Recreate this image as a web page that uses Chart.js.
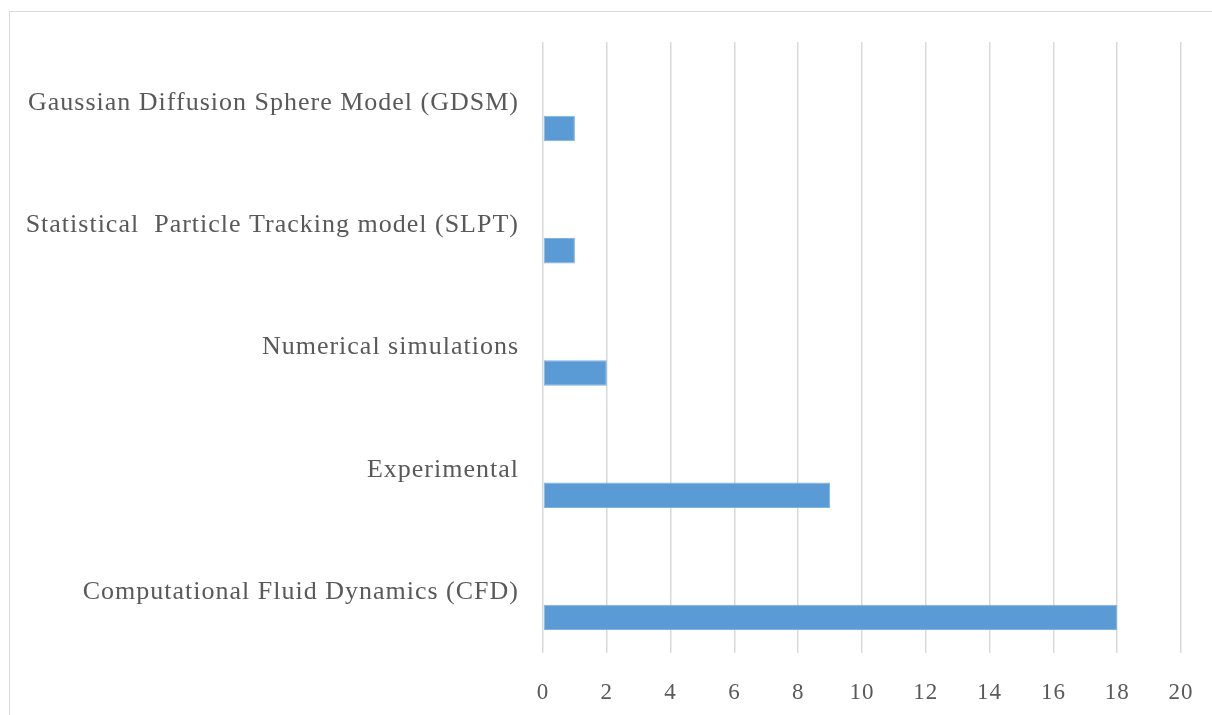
<!DOCTYPE html>
<html>
<head>
<meta charset="utf-8">
<script src="https://cdn.jsdelivr.net/npm/chart.js@4"></script>
<style>
  html, body { margin: 0; padding: 0; background: #fff; overflow: hidden; }
  #frame { position: absolute; left: 9px; top: 11px; width: 1300px; height: 800px; border: 1px solid #D9D9D9; box-sizing: border-box; }
  #wrap { position: absolute; left: 0; top: 0; width: 1212px; height: 715px; }
</style>
</head>
<body>
<div id="frame"></div>
<div id="wrap"><canvas id="c" width="1212" height="715"></canvas></div>
<script>
const categories = [
  "Gaussian Diffusion Sphere Model (GDSM)",
  "Statistical  Particle Tracking model (SLPT)",
  "Numerical simulations",
  "Experimental",
  "Computational Fluid Dynamics (CFD)"
];
const counts = [1, 1, 2, 9, 18];
const emptySeries = [null, null, null, null, null];
const xTicks = [0, 2, 4, 6, 8, 10, 12, 14, 16, 18, 20];

const spacing = {
  id: 'spacing',
  beforeUpdate(chart) { chart.ctx.letterSpacing = '1px'; },
  beforeDraw(chart) { chart.ctx.letterSpacing = '1px'; }
};

new Chart(document.getElementById('c'), {
  type: 'bar',
  data: {
    labels: categories,
    datasets: [
      { label: 'a', data: emptySeries, backgroundColor: '#5B9BD5' },
      { label: 'b', data: emptySeries, backgroundColor: '#5B9BD5' },
      { label: 'Count', data: counts, backgroundColor: '#5B9BD5', borderColor: '#7FB2E0', borderWidth: 1, borderSkipped: false }
    ]
  },
  plugins: [spacing],
  options: {
    indexAxis: 'y',
    responsive: false,
    animation: false,
    maintainAspectRatio: false,
    layout: { padding: { left: 0, right: 31, top: 42, bottom: 0 } },
    plugins: { legend: { display: false }, tooltip: { enabled: false } },
    datasets: { bar: { categoryPercentage: 0.625, barPercentage: 1.0 } },
    scales: {
      x: {
        min: 0, max: 20,
        afterBuildTicks: (s) => { s.ticks = xTicks.map(v => ({ value: v })); },
        afterFit: (s) => { s.height = 62; s.paddingLeft = 0; s.paddingRight = 0; },
        grid: { color: '#D9D9D9', lineWidth: 1.5, drawTicks: false },
        border: { display: false },
        ticks: { color: '#595959', padding: 26, maxRotation: 0, font: { family: 'Liberation Serif', size: 23 } }
      },
      y: {
        afterFit: (s) => { s.width = 543; s.paddingTop = 0; s.paddingBottom = 0; },
        grid: { display: false, drawTicks: false },
        border: { display: false },
        ticks: { color: '#595959', padding: 24, font: { family: 'Liberation Serif', size: 26 }, autoSkip: false }
      }
    }
  }
});
</script>
</body>
</html>
